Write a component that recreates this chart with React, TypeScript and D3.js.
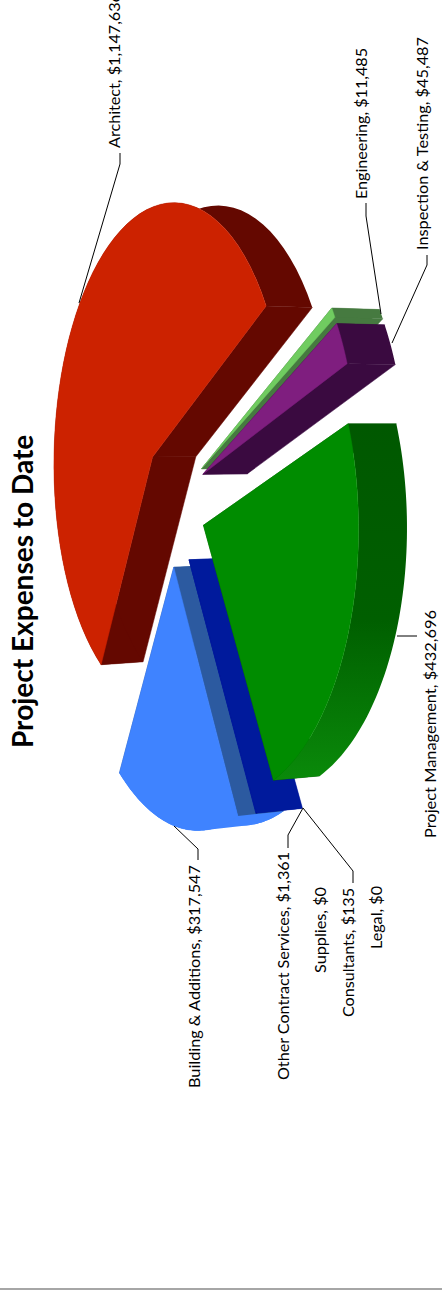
import * as d3 from "d3";

// ── Data, in pie order ─────────────────────────────────────
const labels = ["Engineering", "Inspection & Testing", "Project Management", "Other Contract Services", "Supplies", "Consultants", "Legal", "Building & Additions", "Architect"];
const values = [11485, 45487, 432696, 1361, 0, 135, 0, 317547, 1147636];

// ── Colors ─────────────────────────────────────────────────
const tops = ["#70cc60", "#7f1e7f", "#008c00", "#001a9c", "#001a9c", "#001a9c", "#001a9c", "#3f83ff", "#cc2200"];
const walls = ["#467a40", "#3a0a40", "#005800", "#001a9c", "#001a9c", "#001a9c", "#001a9c", "#2c5aa0", "#640800"];
const rims = ["#467a40", "#3a0a40", "url(#greenRim)", "#001a9c", "#001a9c", "#001a9c", "#001a9c", "#3f83ff", "#640800"];

// back to front; the zero slices draw nothing
const drawOrder = [8, 7, 3, 2, 0, 1];

// ── Layout ─────────────────────────────────────────────────
// pie plane -> page, a homography with the exploded offset as last term
const H = [80.8171, 45.92964, 173.69466, -196.89914, 183.35708, 501.64724, -0.13549, -0.0793];
const EXPLODE = 0.25445;
const RIM_STEPS = 60;

// label baseline x, bottom y, run length (same order as values)
const labelX = [367, 428, 436, 289, 326, 354, 382, 200, 120];
const labelY = [199, 250, 838, 1080, 973, 1017, 949, 1088, 148];
const labelLen = [151, 213, 228, 228, 86, 129, 63, 223, 155];

const leaders: [number, number][][] = [
  [[366, 203], [366, 216], [381, 314]],
  [[427, 255], [427, 265], [392, 343]],
  [[397, 636], [417, 636]],
  [[288, 848], [288, 835], [303, 808]],
  [[353, 883], [353, 871], [303, 808]],
  [[198, 860], [198, 849], [174, 826]],
  [[120, 153], [120, 164], [79, 303]],
];

// ── Geometry ───────────────────────────────────────────────
const slices = d3.pie<number>().sort(null).startAngle(0).endAngle(2 * Math.PI)(values);
const mids = slices.map(s => (s.startAngle + s.endAngle) / 2);

function project(i: number, ang: number, r: number): [number, number] {
  const ux = r * Math.cos(ang) + EXPLODE * Math.cos(mids[i]);
  const uy = r * Math.sin(ang) + EXPLODE * Math.sin(mids[i]);
  const w = H[6] * ux + H[7] * uy + 1;
  return [(H[0] * ux + H[1] * uy + H[2]) / w, (H[3] * ux + H[4] * uy + H[5]) / w];
}

const rimOf = (i: number) => {
  const { startAngle: a0, endAngle: a1 } = slices[i];
  return d3.range(RIM_STEPS + 1).map(k => project(i, a0 + ((a1 - a0) * k) / RIM_STEPS, 1));
};

// depth of the pie, with a touch of perspective
const extrude = (p: [number, number]): [number, number] => [p[0] * 1.025 + 39.5, p[1] * 0.9875 + 5.4];

const line = d3.line();
const closed = (pts: [number, number][]) => line(pts) + "Z";

const money = d3.format("$,");

export default function App() {
  return (
    <svg width={442} height={1294} style={{ position: "absolute", left: 0, top: 0, background: "#fff" }}>
      <defs>
        <linearGradient id="greenRim" x1="0" y1="0" x2="0" y2="1">
          <stop offset="0" stopColor="#005800" />
          <stop offset="0.55" stopColor="#005f00" />
          <stop offset="1" stopColor="#0a8a0a" />
        </linearGradient>
      </defs>

      {drawOrder.map(i => {
        const rim = rimOf(i);
        const back = rim.map(extrude);
        const c = project(i, 0, 0);
        const radial = (p: [number, number]) => closed([c, p, extrude(p), extrude(c)]);
        const hull = d3.polygonHull(rim.concat(back))!;
        return (
          <g key={labels[i]}>
            <path d={radial(rim[0])} fill={walls[i]} stroke={walls[i]} strokeWidth={0.5} />
            <path d={radial(rim[RIM_STEPS])} fill={walls[i]} stroke={walls[i]} strokeWidth={0.5} />
            <path d={closed(rim.concat(back.slice().reverse()))} fill={rims[i]} />
            {/* building slice: wall is as light as the top, silhouette closes over */}
            {i === 7 && <path d={closed(hull)} fill={rims[i]} />}
            {i === 7 && <path d={radial(rim[0])} fill={walls[i]} />}
            <path d={closed([c, ...rim])} fill={tops[i]} stroke={tops[i]} strokeWidth={0.5} />
          </g>
        );
      })}

      {leaders.map((pts, i) => (
        <path key={i} d={line(pts)!} fill="none" stroke="#000" strokeWidth={1} />
      ))}

      {labels.map((name, i) => (
        <text
          key={name}
          transform={`translate(${labelX[i]},${labelY[i]}) rotate(-90)`}
          fontFamily="Lato" fontSize={14.5} fill="#000"
          textLength={labelLen[i]} lengthAdjust="spacingAndGlyphs"
        >
          {name}, {money(values[i])}
        </text>
      ))}

      <text
        transform="translate(33,748) rotate(-90)"
        fontFamily="Lato" fontWeight={700} fontSize={28} fill="#000"
      >
        Project Expenses to Date
      </text>

      <line x1={0} x2={442} y1={1289} y2={1289} stroke="#a6a6a6" strokeWidth={2} />
    </svg>
  );
}
